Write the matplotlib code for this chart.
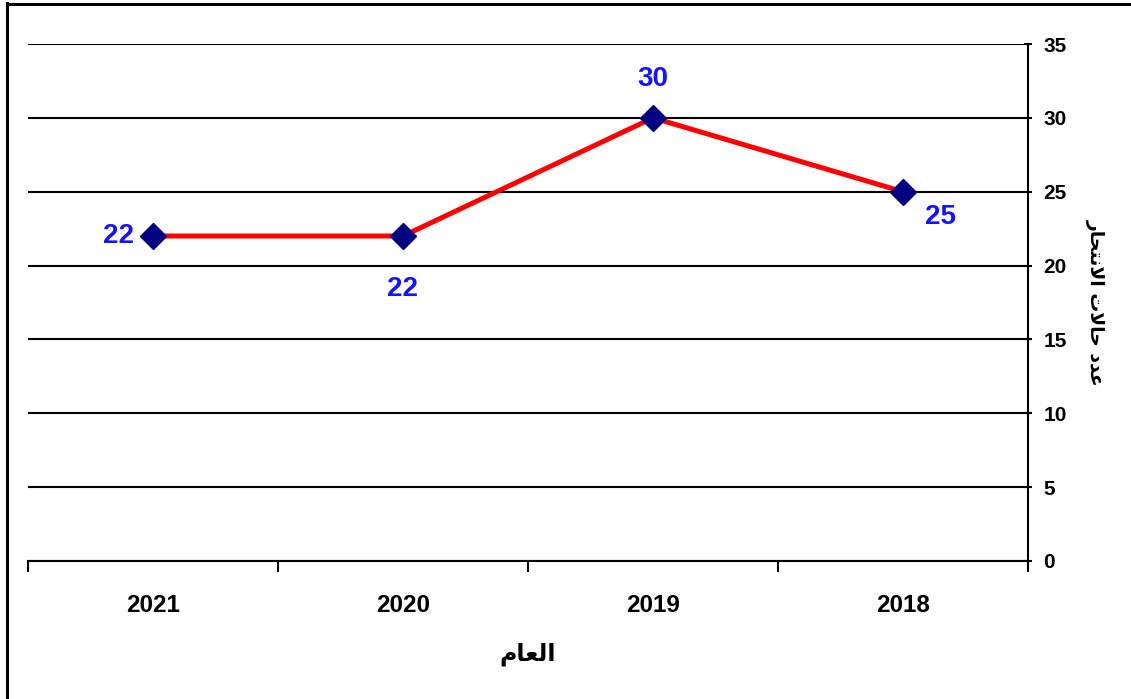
import matplotlib
matplotlib.use("Agg")
import matplotlib.pyplot as plt
from matplotlib.lines import Line2D

years = ["2021", "2020", "2019", "2018"]
cases = [22, 22, 30, 25]
y_ticks = [0, 5, 10, 15, 20, 25, 30, 35]
# Arabic in visual (presentation-form) order
x_label = "\uFEE1\uFE8E\uFECC\uFEDF\uFE8D"            # العام
y_label = "\uFEAD\uFE8E\uFEA4\uFE98\uFEE7\uFEFB\uFE8D \uFE95\uFEFB\uFE8E\uFEA3 \uFEA9\uFEAA\uFECB"  # عدد حالات الانتحار
label_offsets = [(-25, 0), (0, -38), (0, 28), (27, -18)]  # points

W, H = 1131, 699
fig = plt.figure(figsize=(W / 100, H / 100), dpi=100)
ax = fig.add_axes([28 / W, 1 - 561 / H, (1028 - 28) / W, (561 - 44) / H])

xs = list(range(len(years)))
ax.plot(xs, cases, color="#FF0000", lw=3.6, zorder=3, solid_capstyle="butt")
ax.plot(xs, cases, ls="none", marker="D", ms=13, mfc="#000080", mec="#000080", zorder=4)

for x, v, off in zip(xs, cases, label_offsets):
    ax.annotate(str(v), (x, v), xytext=off, textcoords="offset points",
                ha="center", va="center", fontsize=20, fontweight="bold",
                color="#1414FF", family="Liberation Sans")

ax.set_xlim(-0.5, len(years) - 0.5)
ax.set_ylim(0, 35)
ax.set_yticks(y_ticks)
ax.set_yticklabels([str(t) for t in y_ticks])
ax.yaxis.tick_right()
ax.yaxis.set_label_position("right")
for t in y_ticks:
    ax.axhline(t, color="black", lw=1.5, zorder=1)

ax.set_xticks(xs)
ax.set_xticklabels(years)
ax.tick_params(axis="x", which="major", length=0, pad=24, labelsize=17.5)
ax.set_xticks([i - 0.5 for i in range(len(years) + 1)], minor=True)
ax.tick_params(axis="x", which="minor", length=8, width=1.5, direction="out", color="black")
ax.tick_params(axis="y", length=6, width=1.5, direction="inout", pad=8, labelsize=15)
for lab in ax.get_xticklabels() + ax.get_yticklabels():
    lab.set_fontweight("bold")
    lab.set_family("Liberation Sans")

for s in ["left", "top"]:
    ax.spines[s].set_visible(False)
for s in ["right", "bottom"]:
    ax.spines[s].set_linewidth(1.5)

ax.set_xlabel(x_label, fontsize=17, fontweight="bold", family="DejaVu Sans", labelpad=18)
ax.set_ylabel(y_label, fontsize=13.5, fontweight="bold", family="DejaVu Sans", rotation=-90,
              labelpad=14, va="bottom")

# figure border
fig.add_artist(Line2D([7 / W, 7 / W], [0, 1 - 3 / H], transform=fig.transFigure, color="black", lw=2.2))
fig.add_artist(Line2D([7 / W, 1], [1 - 4 / H, 1 - 4 / H], transform=fig.transFigure, color="black", lw=2.2))

fig.savefig("out.png", dpi=100)
